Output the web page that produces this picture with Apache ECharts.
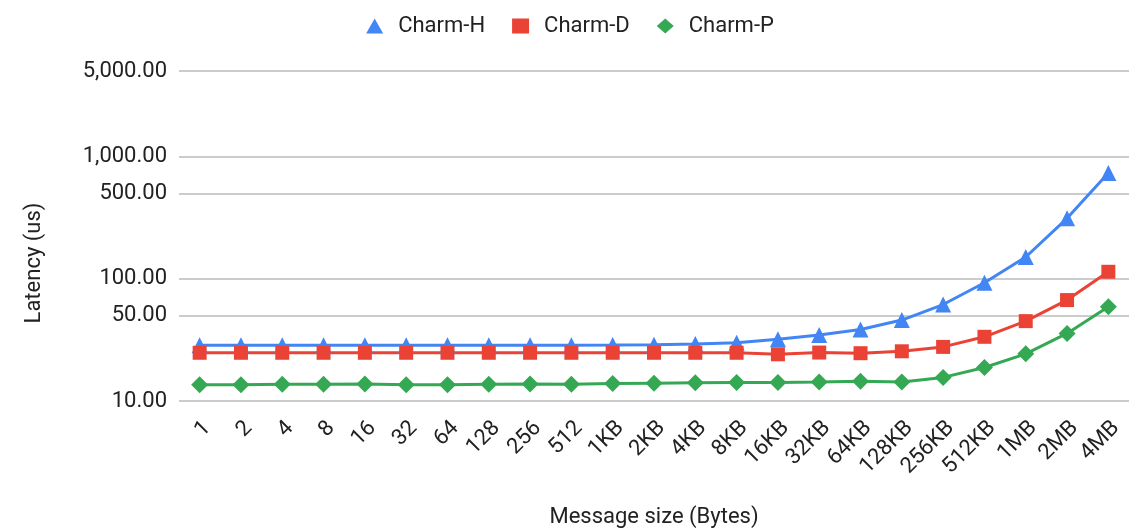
<!DOCTYPE html>
<html>
<head>
<meta charset="utf-8">
<script src="https://cdn.jsdelivr.net/npm/echarts@6/dist/echarts.min.js"></script>
<style>
  html, body { margin: 0; padding: 0; background: #fff; }
  #chart { width: 1140px; height: 531px; }
</style>
</head>
<body>
<div id="chart"></div>
<script>
var sizes = ["1", "2", "4", "8", "16", "32", "64", "128", "256", "512", "1KB", "2KB", "4KB", "8KB",
  "16KB", "32KB", "64KB", "128KB", "256KB", "512KB", "1MB", "2MB", "4MB"];

// latency in microseconds
var charmH = [28.6, 28.6, 28.6, 28.6, 28.6, 28.6, 28.6, 28.6, 28.6, 28.6, 28.7, 28.9, 29.2, 29.9,
  32.0, 34.6, 38.5, 45.9, 61.5, 92.7, 150.6, 312, 731];
var charmD = [24.8, 24.8, 24.8, 24.8, 24.8, 24.8, 24.8, 24.8, 24.8, 24.8, 24.8, 24.8, 24.8, 24.8,
  24.1, 24.9, 24.6, 25.5, 27.7, 33.5, 45.0, 66.9, 114];
var charmP = [13.6, 13.6, 13.7, 13.7, 13.8, 13.6, 13.6, 13.7, 13.8, 13.7, 13.9, 14.0, 14.1, 14.2,
  14.2, 14.3, 14.5, 14.3, 15.6, 18.8, 24.3, 35.7, 58.9];

var yTicks = [10, 50, 100, 500, 1000, 5000];

var C = { blue: "#4285F4", red: "#EA4335", green: "#34A853", text: "#222222", grid: "#cccccc" };
var FONT = "Roboto, 'Noto Sans', sans-serif";

var chart = echarts.init(document.getElementById("chart"));

function lineSeries(name, data, symbol, size, color) {
  return {
    name: name,
    type: "line",
    data: data,
    symbol: symbol,
    symbolSize: size,
    showAllSymbol: true,
    itemStyle: { color: color, opacity: 1 },
    lineStyle: { color: color, width: 3 },
    emphasis: { disabled: true },
    animation: false
  };
}

chart.setOption({
  backgroundColor: "#ffffff",
  textStyle: { fontFamily: FONT },
  legend: {
    top: 10,
    left: "center",
    itemWidth: 17,
    itemHeight: 15,
    itemGap: 27,
    textStyle: { color: C.text, fontSize: 22, fontFamily: FONT, padding: [0, 0, 0, 10] },
    data: [
      { name: "Charm-H", icon: "triangle" },
      { name: "Charm-D", icon: "rect" },
      { name: "Charm-P", icon: "diamond" }
    ]
  },
  grid: { left: 179, right: 11, top: 71, bottom: 130, outerBoundsMode: "none" },
  xAxis: {
    type: "category",
    data: sizes,
    boundaryGap: true,
    name: "Message size (Bytes)",
    nameLocation: "middle",
    nameGap: 105,
    nameTextStyle: { color: C.text, fontSize: 22, fontFamily: FONT },
    axisLine: { show: false },
    axisTick: { show: false },
    axisLabel: {
      color: C.text, fontSize: 22, rotate: 45, margin: 16, interval: 0,
      verticalAlign: "top", fontFamily: FONT
    }
  },
  yAxis: {
    type: "log",
    logBase: 10,
    min: 10,
    max: 5000,
    name: "Latency (us)",
    nameLocation: "middle",
    nameGap: 134,
    nameTextStyle: { color: C.text, fontSize: 22, fontFamily: FONT, padding: [0, 54, 0, 0] },
    axisLine: { show: false },
    axisTick: { show: false, customValues: yTicks },
    axisLabel: {
      color: C.text,
      fontSize: 22,
      margin: 12,
      fontFamily: FONT,
      customValues: yTicks,
      formatter: function (v) {
        return Number(v).toLocaleString("en-US", { minimumFractionDigits: 2, maximumFractionDigits: 2 });
      }
    },
    splitLine: { show: true, lineStyle: { color: C.grid, width: 2 } }
  },
  series: [
    lineSeries("Charm-H", charmH, "triangle", 16, C.blue),
    lineSeries("Charm-D", charmD, "rect", 14, C.red),
    lineSeries("Charm-P", charmP, "diamond", 17, C.green)
  ]
});
</script>
</body>
</html>
